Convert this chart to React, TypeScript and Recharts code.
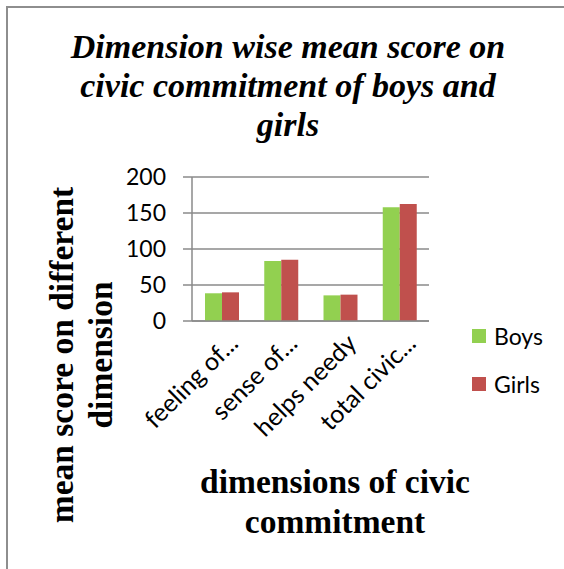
import React from 'react';
import { BarChart, Bar, XAxis, YAxis, CartesianGrid } from 'recharts';

const categories = ['feeling of...', 'sense of...', 'helps needy', 'total civic...'];
const boys = [38.5, 83.3, 35.6, 158];
const girls = [39.8, 85, 36.6, 162.5];
const yTicks = [0, 50, 100, 150, 200];
const seriesNames = ['Boys', 'Girls'];
const seriesColors = ['#92D050', '#C0504D'];
const titleLines = ['Dimension wise mean score on', 'civic commitment of boys and', 'girls'];
const yTitleLines = ['mean score on different', 'dimension'];
const xTitleLines = ['dimensions of civic', 'commitment'];

const data = categories.map((c, i) => ({ name: c, Boys: boys[i], Girls: girls[i] }));

const GRID = '#8a8a8a';
const TICK_FONT = 'Lato, "Open Sans", sans-serif';
const SERIF = '"Liberation Serif", "Times New Roman", serif';

const CatTick = (props: any) => {
  const { x, y, payload } = props;
  const px = x + 18;
  const py = y + 24;
  return (
    <text
      x={px}
      y={py}
      transform={`rotate(-45, ${px}, ${py})`}
      textAnchor="end"
      fontFamily={TICK_FONT}
      fontSize={25}
      fill="#000"
    >
      {payload.value}
    </text>
  );
};

export default function App() {
  return (
    <div style={{ position: 'fixed', left: 0, top: 0, width: 564, height: 569, overflow: 'hidden', background: '#fff' }}>
      <div
        style={{
          position: 'absolute',
          left: 6,
          top: 6,
          width: 700,
          height: 700,
          borderLeft: '2px solid #8e8e8e',
          borderTop: '2px solid #8e8e8e',
        }}
      />
      <div style={{ position: 'absolute', left: 0, top: 0 }}>
        <BarChart
          width={564}
          height={569}
          data={data}
          margin={{ top: 177, right: 135, bottom: 218, left: 142 }}
          barSize={17}
          barGap={0}
        >
          <CartesianGrid vertical={false} stroke={GRID} strokeWidth={1.5} />
          <XAxis
            dataKey="name"
            height={30}
            interval={0}
            tickSize={0}
            tickMargin={0}
            tickLine={false}
            axisLine={{ stroke: GRID, strokeWidth: 1.5 }}
            tick={<CatTick />}
          />
          <YAxis
            width={50}
            domain={[0, 200]}
            ticks={yTicks}
            interval={0}
            tickSize={9}
            tickMargin={17}
            tickLine={{ stroke: GRID, strokeWidth: 1.5 }}
            axisLine={{ stroke: GRID, strokeWidth: 1.5 }}
            tick={{ fontFamily: TICK_FONT, fontSize: 23, fill: '#000' }}
          />
          <Bar dataKey="Boys" name={seriesNames[0]} fill={seriesColors[0]} isAnimationActive={false} />
          <Bar dataKey="Girls" name={seriesNames[1]} fill={seriesColors[1]} isAnimationActive={false} />
        </BarChart>
      </div>
      <div style={{ position: 'absolute', left: 472, top: 312, width: 90 }}>
        {seriesNames.map((n, i) => (
          <div key={n} style={{ display: 'flex', alignItems: 'center', height: 48 }}>
            <div style={{ width: 14, height: 14, background: seriesColors[i], marginRight: 8 }} />
            <span style={{ fontFamily: TICK_FONT, fontSize: 23, color: '#000', lineHeight: '23px' }}>{n}</span>
          </div>
        ))}
      </div>
      <svg width={564} height={569} style={{ position: 'absolute', left: 0, top: 0, pointerEvents: 'none' }}>
        {titleLines.map((t, i) => (
          <text
            key={t}
            x={288}
            y={58 + i * 39}
            textAnchor="middle"
            fontFamily={SERIF}
            fontWeight="bold"
            fontStyle="italic"
            fontSize={34}
            fill="#000"
          >
            {t}
          </text>
        ))}
        {yTitleLines.map((t, i) => (
          <text
            key={t}
            x={73 + i * 39}
            y={355}
            transform={`rotate(-90, ${73 + i * 39}, 355)`}
            textAnchor="middle"
            fontFamily={SERIF}
            fontWeight="bold"
            fontSize={33.5}
            fill="#000"
          >
            {t}
          </text>
        ))}
        {xTitleLines.map((t, i) => (
          <text
            key={t}
            x={335}
            y={493 + i * 40}
            textAnchor="middle"
            fontFamily={SERIF}
            fontWeight="bold"
            fontSize={33.5}
            fill="#000"
          >
            {t}
          </text>
        ))}
      </svg>
    </div>
  );
}
